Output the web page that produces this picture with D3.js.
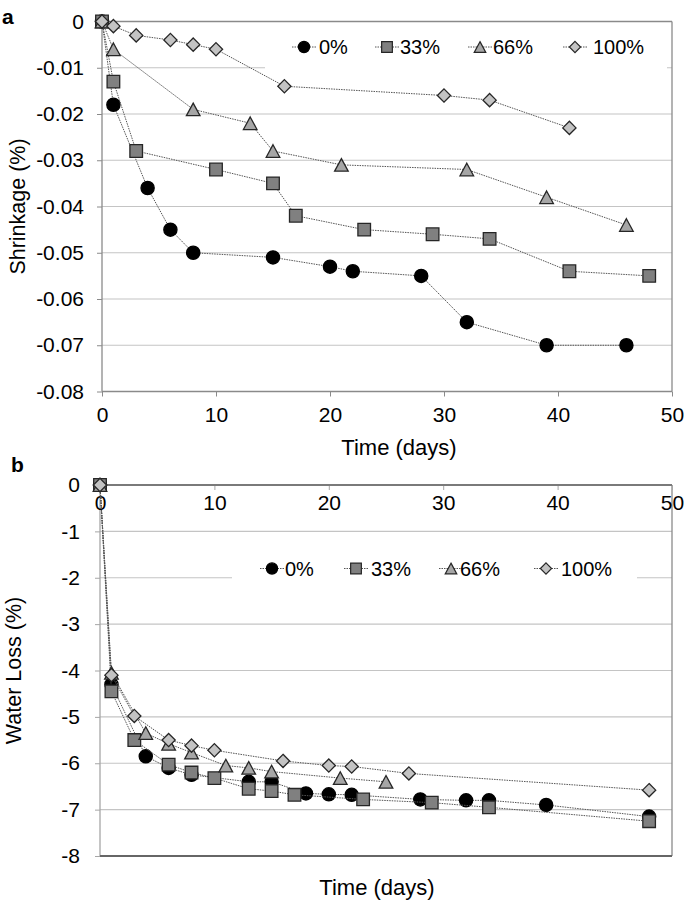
<!DOCTYPE html>
<html><head><meta charset="utf-8">
<script src="https://cdn.jsdelivr.net/npm/d3@7"></script>
<style>
body{margin:0;background:#fff}
svg{display:block}
text{font-family:"Liberation Sans",Arial,Helvetica,sans-serif;fill:#000}
</style>
</head><body>
<svg id="chart" width="685" height="904"></svg>
<script>
// ---------- DATA ----------
const seriesNames = ["0%", "33%", "66%", "100%"];

// Panel a: Shrinkage (%)
const aDays0   = [0, 1, 4, 6, 8, 15, 20, 22, 28, 32, 39, 46];
const aShrink0 = [0, -0.018, -0.036, -0.045, -0.050, -0.051, -0.053, -0.054, -0.055, -0.065, -0.070, -0.070];
const aDays33   = [0, 1, 3, 10, 15, 17, 23, 29, 34, 41, 48];
const aShrink33 = [0, -0.013, -0.028, -0.032, -0.035, -0.042, -0.045, -0.046, -0.047, -0.054, -0.055];
const aDays66   = [0, 1, 8, 13, 15, 21, 32, 39, 46];
const aShrink66 = [0, -0.006, -0.019, -0.022, -0.028, -0.031, -0.032, -0.038, -0.044];
const aDays100   = [0, 1, 3, 6, 8, 10, 16, 30, 34, 41];
const aShrink100 = [0, -0.001, -0.003, -0.004, -0.005, -0.006, -0.014, -0.016, -0.017, -0.023];

// Panel b: Water Loss (%)
const bDays0  = [0, 1, 4, 6, 8, 13, 15, 18, 20, 22, 28, 32, 34, 39, 48];
const bLoss0  = [0, -4.30, -5.85, -6.10, -6.25, -6.40, -6.40, -6.65, -6.67, -6.68, -6.78, -6.80, -6.80, -6.90, -7.15];
const bDays33 = [0, 1, 3, 6, 8, 10, 13, 15, 17, 23, 29, 34, 48];
const bLoss33 = [0, -4.45, -5.50, -6.03, -6.20, -6.32, -6.55, -6.60, -6.68, -6.78, -6.85, -6.95, -7.25];
const bDays66 = [0, 1, 4, 6, 8, 11, 13, 15, 21, 25];
const bLoss66 = [0, -4.05, -5.35, -5.58, -5.77, -6.05, -6.10, -6.18, -6.32, -6.40];
const bDays100 = [0, 1, 3, 6, 8, 10, 16, 20, 22, 27, 48];
const bLoss100 = [0, -4.10, -4.98, -5.50, -5.62, -5.72, -5.95, -6.05, -6.07, -6.22, -6.58];

// Ticks
const xTicks = [0, 10, 20, 30, 40, 50];
const xTickLabels = ["0", "10", "20", "30", "40", "50"];
const aYTicks = [0, -0.01, -0.02, -0.03, -0.04, -0.05, -0.06, -0.07, -0.08];
const aYTickLabels = ["0", "-0.01", "-0.02", "-0.03", "-0.04", "-0.05", "-0.06", "-0.07", "-0.08"];
const bYTicks = [0, -1, -2, -3, -4, -5, -6, -7, -8];
const bYTickLabels = ["0", "-1", "-2", "-3", "-4", "-5", "-6", "-7", "-8"];

// ---------- HELPERS ----------
const svg = d3.select("#chart");
const markerTypes = ["circle", "square", "triangle", "diamond"];
const markerFill = ["#000000", "#808080", "#a6a6a6", "#c3c3c3"];
const markerStroke = ["#000000", "#262626", "#262626", "#262626"];

function markerPath(type, k) {
  if (type === "circle") { const r = 6.6 * k; return `M${-r},0a${r},${r} 0 1,0 ${2*r},0a${r},${r} 0 1,0 ${-2*r},0Z`; }
  if (type === "square") { const h = 6.3 * k; return `M${-h},${-h}H${h}V${h}H${-h}Z`; }
  if (type === "triangle") { const w = 6.8 * k, t = 6.3 * k; return `M0,${-t}L${w},${t}L${-w},${t}Z`; }
  const h = 6.6 * k; return `M0,${-h}L${h},0L0,${h}L${-h},0Z`;
}

function drawSeries(g, x, y, days, vals, i) {
  const pts = days.map((d, j) => [d, vals[j]]);
  g.append("path")
    .attr("d", d3.line().x(d => x(d[0])).y(d => y(d[1]))(pts))
    .attr("fill", "none").attr("stroke", "#555").attr("stroke-width", 1)
    .attr("stroke-dasharray", "1.5,1");
  g.selectAll(null).data(pts).enter().append("path")
    .attr("transform", d => `translate(${x(d[0])},${y(d[1])})`)
    .attr("d", markerPath(markerTypes[i], 1))
    .attr("fill", markerFill[i]).attr("stroke", markerStroke[i]).attr("stroke-width", 1.3);
}

function drawLegend(g, cx, textX, cy, fontSize) {
  seriesNames.forEach((name, i) => {
    g.append("line").attr("x1", cx[i] - 12).attr("x2", cx[i] + 12).attr("y1", cy).attr("y2", cy)
      .attr("stroke", "#555").attr("stroke-width", 1).attr("stroke-dasharray", "1.5,1");
    g.append("path").attr("transform", `translate(${cx[i]},${cy})`)
      .attr("d", markerPath(markerTypes[i], 0.85))
      .attr("fill", markerFill[i]).attr("stroke", markerStroke[i]).attr("stroke-width", 1.2);
    g.append("text").attr("x", textX[i]).attr("y", cy).attr("dy", "0.36em")
      .attr("font-size", fontSize).text(name);
  });
}

function styleAxis(sel, color, fontSize) {
  sel.select(".domain").remove();
  sel.selectAll(".tick line").attr("stroke", color).attr("stroke-width", 1);
  sel.selectAll(".tick text").attr("font-size", fontSize).attr("fill", "#000")
     .attr("font-family", '"Liberation Sans",Arial,sans-serif');
}

// ---------- PANEL A ----------
const xA = d3.scaleLinear().domain([0, 50]).range([102, 672]);
const yA = d3.scaleLinear().domain([-0.08, 0]).range([391.5, 21.5]);
const gA = svg.append("g");

gA.selectAll(null).data(aYTicks.filter(v => v !== -0.08 && v !== 0)).enter().append("line")
  .attr("x1", xA(0)).attr("x2", xA(50)).attr("y1", d => yA(d)).attr("y2", d => yA(d))
  .attr("stroke", "#c4c4c4").attr("stroke-width", 1.2);
gA.append("line").attr("x1", xA(0)).attr("x2", xA(50)).attr("y1", yA(0)).attr("y2", yA(0))
  .attr("stroke", "#8a8a8a").attr("stroke-width", 1.3);
gA.append("line").attr("x1", xA(50)).attr("x2", xA(50)).attr("y1", yA(0)).attr("y2", yA(-0.08))
  .attr("stroke", "#8a8a8a").attr("stroke-width", 1.3);

const axAx = gA.append("g").attr("transform", `translate(0,${yA(-0.08)})`)
  .call(d3.axisBottom(xA).tickValues(xTicks).tickFormat((d, i) => xTickLabels[i]).tickSize(5).tickPadding(11));
styleAxis(axAx, "#8a8a8a", 21);
const axAy = gA.append("g").attr("transform", `translate(${xA(0)},0)`)
  .call(d3.axisLeft(yA).tickValues(aYTicks).tickFormat((d, i) => aYTickLabels[i]).tickSize(5).tickPadding(13));
styleAxis(axAy, "#8a8a8a", 21);
gA.append("line").attr("x1", xA(0)).attr("x2", xA(50)).attr("y1", yA(-0.08)).attr("y2", yA(-0.08))
  .attr("stroke", "#8a8a8a").attr("stroke-width", 1.3);
gA.append("line").attr("x1", xA(0)).attr("x2", xA(0)).attr("y1", yA(0)).attr("y2", yA(-0.08))
  .attr("stroke", "#8a8a8a").attr("stroke-width", 1.3);

gA.append("rect").attr("x", 265).attr("y", 24).attr("width", 402).attr("height", 46).attr("fill", "#fff");

drawSeries(gA, xA, yA, aDays0, aShrink0, 0);
drawSeries(gA, xA, yA, aDays33, aShrink33, 1);
drawSeries(gA, xA, yA, aDays66, aShrink66, 2);
drawSeries(gA, xA, yA, aDays100, aShrink100, 3);

drawLegend(gA, [304, 387, 480, 575], [319, 400, 493, 593], 47, 20);

gA.append("text").attr("x", 2).attr("y", 24).attr("font-size", 21).attr("font-weight", "bold").text("a");
gA.append("text").attr("transform", `translate(25,${(yA(0) + yA(-0.08)) / 2}) rotate(-90)`)
  .attr("text-anchor", "middle").attr("font-size", 21.5).text("Shrinkage (%)");
gA.append("text").attr("x", 399).attr("y", 455).attr("text-anchor", "middle").attr("font-size", 22).text("Time (days)");

// ---------- PANEL B ----------
const xB = d3.scaleLinear().domain([0, 50]).range([100, 672]);
const yB = d3.scaleLinear().domain([-8, 0]).range([856, 485]);
const gB = svg.append("g");

gB.selectAll(null).data(bYTicks.filter(v => v !== 0 && v !== -8)).enter().append("line")
  .attr("x1", xB(0)).attr("x2", xB(50)).attr("y1", d => yB(d)).attr("y2", d => yB(d))
  .attr("stroke", "#c4c4c4").attr("stroke-width", 1.2);
gB.append("line").attr("x1", xB(50)).attr("x2", xB(50)).attr("y1", yB(0)).attr("y2", yB(-8))
  .attr("stroke", "#8a8a8a").attr("stroke-width", 1.3);

const axBy = gB.append("g").attr("transform", `translate(${xB(0)},0)`)
  .call(d3.axisLeft(yB).tickValues(bYTicks).tickFormat((d, i) => bYTickLabels[i]).tickSize(5).tickPadding(15));
styleAxis(axBy, "#a6a6a6", 21);
gB.append("line").attr("x1", xB(0)).attr("x2", xB(0)).attr("y1", yB(0)).attr("y2", yB(-8))
  .attr("stroke", "#a6a6a6").attr("stroke-width", 1.3);
gB.append("line").attr("x1", xB(0)).attr("x2", xB(50)).attr("y1", yB(-8)).attr("y2", yB(-8))
  .attr("stroke", "#666").attr("stroke-width", 2);

const axBx = gB.append("g").attr("transform", `translate(0,${yB(0)})`)
  .call(d3.axisBottom(xB).tickValues(xTicks).tickFormat((d, i) => xTickLabels[i]).tickSize(5).tickPadding(5));
styleAxis(axBx, "#a6a6a6", 21);
gB.append("line").attr("x1", xB(0)).attr("x2", xB(50)).attr("y1", yB(0)).attr("y2", yB(0))
  .attr("stroke", "#7a7a7a").attr("stroke-width", 2);

gB.append("rect").attr("x", 232).attr("y", 550).attr("width", 405).attr("height", 38).attr("fill", "#fff");

drawSeries(gB, xB, yB, bDays0, bLoss0, 0);
drawSeries(gB, xB, yB, bDays33, bLoss33, 1);
drawSeries(gB, xB, yB, bDays66, bLoss66, 2);
drawSeries(gB, xB, yB, bDays100, bLoss100, 3);

drawLegend(gB, [272, 356, 451, 546], [285, 371, 460, 561], 568.5, 20);

gB.append("text").attr("x", 11).attr("y", 472).attr("font-size", 21).attr("font-weight", "bold").text("b");
gB.append("text").attr("transform", `translate(21,${(yB(0) + yB(-8)) / 2}) rotate(-90)`)
  .attr("text-anchor", "middle").attr("font-size", 21.5).text("Water Loss (%)");
gB.append("text").attr("x", 377).attr("y", 895).attr("text-anchor", "middle").attr("font-size", 22).text("Time (days)");
</script>
</body></html>
